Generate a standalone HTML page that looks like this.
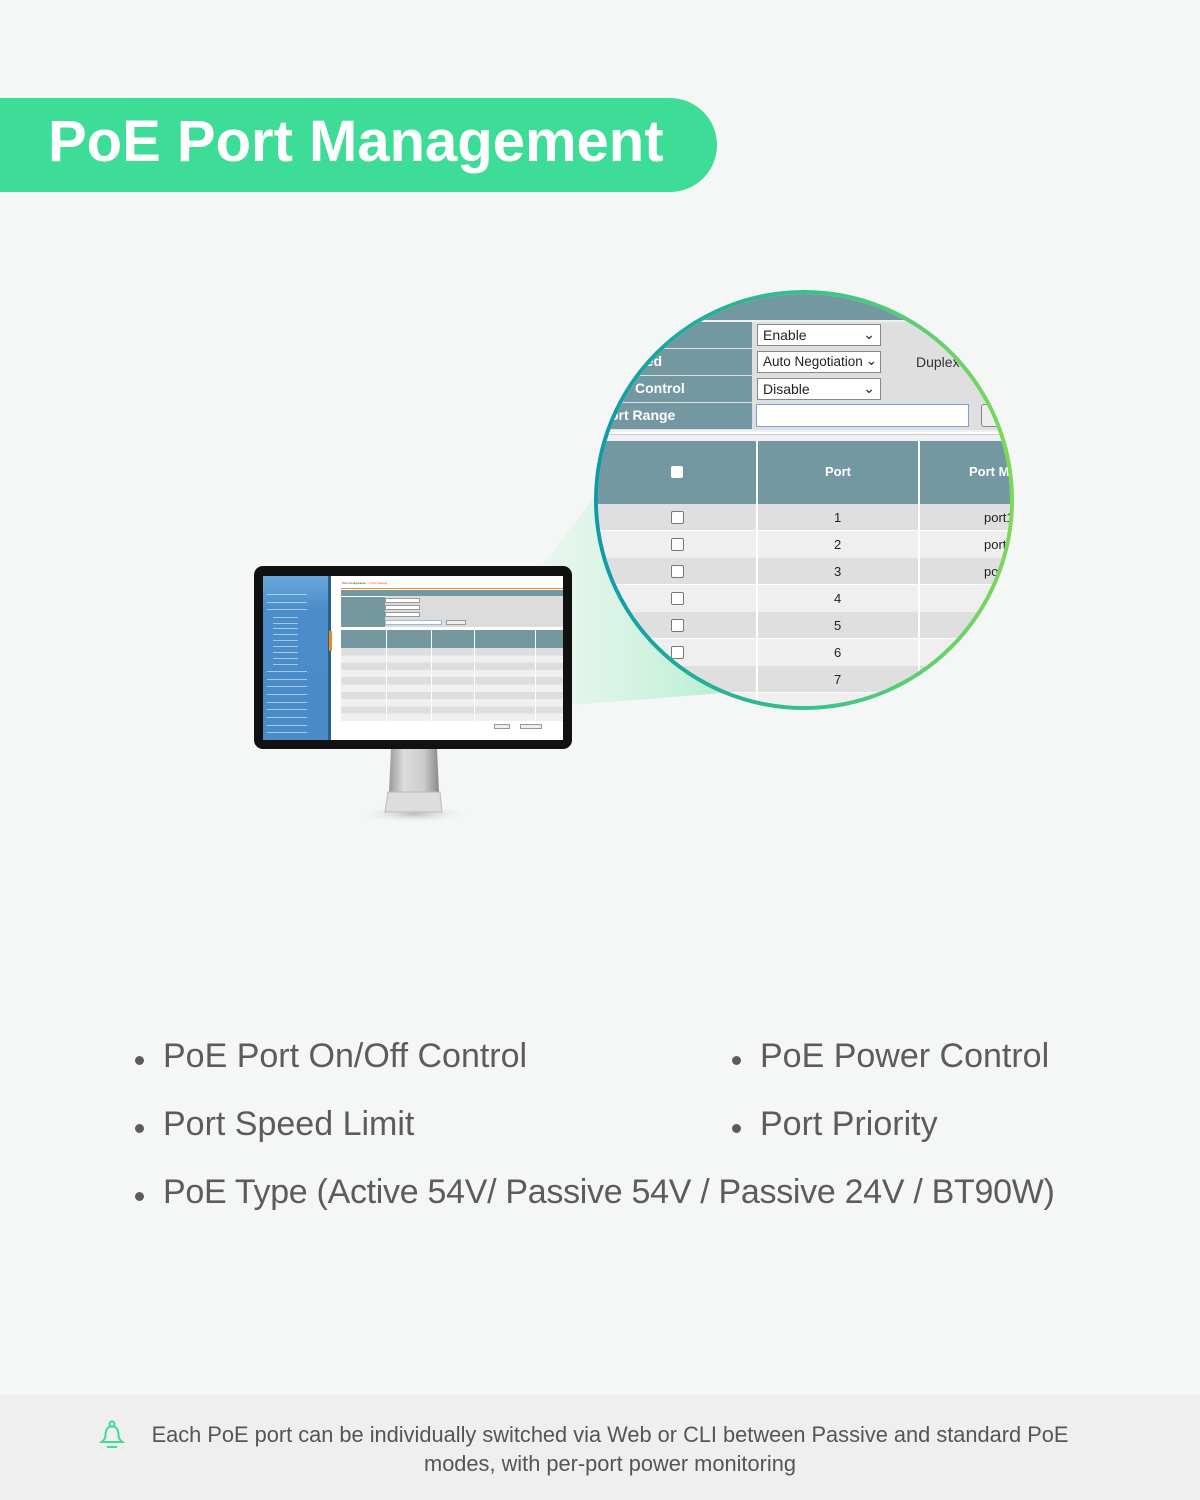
<!DOCTYPE html>
<html><head><meta charset="utf-8"><style>
*{margin:0;padding:0;box-sizing:border-box}
body{width:1200px;height:1500px;background:#f5f7f6;position:relative;overflow:hidden;font-family:"Liberation Sans",sans-serif}
.abs{position:absolute}
.b{position:absolute;font-size:34px;color:#5c5c5c;white-space:nowrap}
.b:before{content:"";position:absolute;left:-28px;top:19px;width:9px;height:9px;border-radius:50%;background:#5c5c5c}
.m{position:absolute;font-size:3px;color:#666;white-space:nowrap}
.sl{position:absolute;left:4px;width:40px;height:1px;background:#cfe2f3;opacity:.7}
</style></head><body>
<div class="abs" style="left:0;top:98px;width:717px;height:94px;background:#3ddc97;border-radius:0 47px 47px 0"></div>
<div class="abs" style="left:48px;top:108px;font-size:58px;font-weight:bold;color:#fff;white-space:nowrap">PoE Port Management</div>

<svg class="abs" style="left:0;top:0" width="1200" height="1500">
<defs><linearGradient id="bm" x1="0" y1="0" x2="1" y2="0"><stop offset="0" stop-color="#d8f5e6" stop-opacity="0.4"/><stop offset="1" stop-color="#a8ecc8"/></linearGradient>
<radialGradient id="sh" cx="0.5" cy="0.5" r="0.5"><stop offset="0" stop-color="#bbb"/><stop offset="1" stop-color="#f5f7f6" stop-opacity="0"/></radialGradient>
<linearGradient id="nk" x1="0" y1="0" x2="1" y2="0"><stop offset="0" stop-color="#999"/><stop offset="0.3" stop-color="#ddd"/><stop offset="0.7" stop-color="#ccc"/><stop offset="1" stop-color="#888"/></linearGradient></defs>
<polygon points="540,568 600,490 760,690 572,705" fill="url(#bm)"/>
<ellipse cx="414" cy="814" rx="58" ry="9" fill="url(#sh)"/>
<polygon points="391,749 437,749 439,792 389,792" fill="url(#nk)"/>
<polygon points="388,792 440,792 442,812 385,812" fill="#ddd" stroke="#bbb" stroke-width="1"/>
</svg>

<div class="abs" style="left:254px;top:566px;width:318px;height:183px;background:#111;border-radius:9px"></div>
<div class="abs" style="left:263px;top:576px;width:300px;height:164px;background:#fff;overflow:hidden">
 <div class="abs" style="left:0;top:0;width:67px;height:164px;background:linear-gradient(#6aa6dc,#4b8dcb 20%,#4a8ac6)">
  <div class="sl" style="top:18px"></div><div class="sl" style="top:26px"></div><div class="sl" style="top:33px"></div>
  <div class="sl" style="top:41px;left:10px;width:25px"></div><div class="sl" style="top:47px;left:10px;width:25px"></div><div class="sl" style="top:52px;left:10px;width:25px"></div><div class="sl" style="top:58px;left:10px;width:25px"></div><div class="sl" style="top:64px;left:10px;width:25px"></div><div class="sl" style="top:70px;left:10px;width:25px"></div><div class="sl" style="top:76px;left:10px;width:25px"></div><div class="sl" style="top:82px;left:10px;width:25px"></div><div class="sl" style="top:88px;left:10px;width:25px"></div>
  <div class="sl" style="top:95px"></div><div class="sl" style="top:103px"></div><div class="sl" style="top:110px"></div><div class="sl" style="top:118px"></div><div class="sl" style="top:126px"></div><div class="sl" style="top:133px"></div><div class="sl" style="top:141px"></div><div class="sl" style="top:149px"></div><div class="sl" style="top:156px"></div>
 </div>
 <div class="abs" style="left:65px;top:0;width:3px;height:164px;background:#2d5f8e"></div>
 <div class="abs" style="left:66px;top:55px;width:3px;height:20px;background:#f08a24"></div>
 <div class="m" style="left:79px;top:5px;color:#333">Port Configuration <span style="color:#e33">&gt;&gt; Port Setting</span></div>
 <div class="abs" style="left:78px;top:12px;width:222px;height:1px;background:#f08a24"></div>
 <div class="abs" style="left:78px;top:14px;width:222px;height:37px;background:#dcdcdc"></div>
 <div class="abs" style="left:78px;top:14px;width:222px;height:6px;background:#7598a0"></div>
 <div class="abs" style="left:78px;top:20px;width:44px;height:31px;background:#7598a0;border-top:1px solid #fff"></div>
 <div class="abs" style="left:122px;top:22px;width:35px;height:5px;background:#fff;border:1px solid #999"></div>
 <div class="abs" style="left:122px;top:29px;width:35px;height:5px;background:#fff;border:1px solid #999"></div>
 <div class="abs" style="left:122px;top:36px;width:35px;height:5px;background:#fff;border:1px solid #999"></div>
 <div class="abs" style="left:122px;top:44px;width:57px;height:5px;background:#fff;border:1px solid #9bd"></div>
 <div class="abs" style="left:183px;top:44px;width:20px;height:5px;background:#eee;border:1px solid #999"></div>
 <div class="abs" style="left:78px;top:54px;width:222px;height:18px;background:#7598a0"></div>
 <div class="abs" style="left:78px;top:72px;width:222px;height:73px;background:repeating-linear-gradient(#dedede 0 7.3px,#f0f0f0 7.3px 14.6px)"></div>
 <div class="abs" style="left:123px;top:54px;width:1px;height:91px;background:#fff"></div>
 <div class="abs" style="left:168px;top:54px;width:1px;height:91px;background:#fff"></div>
 <div class="abs" style="left:211px;top:54px;width:1px;height:91px;background:#fff"></div>
 <div class="abs" style="left:272px;top:54px;width:1px;height:91px;background:#fff"></div>
 <div class="abs" style="left:231px;top:148px;width:16px;height:5px;border:1px solid #999;background:#eee"></div>
 <div class="abs" style="left:257px;top:148px;width:22px;height:5px;border:1px solid #999;background:#eee"></div>
</div>

<div class="abs" style="left:594px;top:290px;width:420px;height:420px;border-radius:50%;background:linear-gradient(90deg,#0f9aa8,#3cc48a 55%,#7dd957)">
<div class="abs" style="left:4px;top:4px;width:412px;height:412px;border-radius:50%;overflow:hidden;background:#f0f0f0">
<div class="abs" style="left:-598px;top:-294px;width:1200px;height:800px;font-family:'Liberation Sans',sans-serif">
 <div class="abs" style="left:590px;top:290px;width:440px;height:30px;background:#7398a1"></div>
 <div class="abs" style="left:590px;top:322px;width:440px;height:108px;background:#dfdfdf"></div>
 <div class="abs" style="left:590px;top:322px;width:162px;height:26px;background:#7398a1"></div>
 <div class="abs" style="left:590px;top:349px;width:162px;height:26px;background:#7398a1"></div>
 <div class="abs" style="left:590px;top:376px;width:162px;height:26px;background:#7398a1"></div>
 <div class="abs" style="left:590px;top:403px;width:162px;height:26px;background:#7398a1"></div>
 <div class="abs" style="left:620px;top:353px;color:#fff;font-weight:bold;font-size:14px">Speed</div>
 <div class="abs" style="left:635px;top:380px;color:#fff;font-weight:bold;font-size:14px">Control</div>
 <div class="abs" style="left:610px;top:407px;color:#fff;font-weight:bold;font-size:14px">ort Range</div>
 <div class="abs" style="left:757px;top:324px;width:124px;height:22px;background:#fff;border:1px solid #888;font-size:14px;padding:2px 5px;color:#222">Enable<span style="position:absolute;right:5px;top:1px">⌄</span></div>
 <div class="abs" style="left:757px;top:351px;width:124px;height:22px;background:#fff;border:1px solid #888;font-size:13.5px;padding:2px 5px;color:#222;white-space:nowrap">Auto Negotiation<span style="position:absolute;right:3px;top:1px">⌄</span></div>
 <div class="abs" style="left:757px;top:378px;width:124px;height:22px;background:#fff;border:1px solid #888;font-size:14px;padding:2px 5px;color:#222">Disable<span style="position:absolute;right:5px;top:1px">⌄</span></div>
 <div class="abs" style="left:916px;top:354px;font-size:14px;color:#333">Duplex</div>
 <div class="abs" style="left:756px;top:404px;width:213px;height:23px;background:#fff;border:1px solid #7aa0dd"></div>
 <div class="abs" style="left:981px;top:404px;width:40px;height:23px;background:#eee;border:1px solid #888;border-radius:3px"></div>
 <div class="abs" style="left:590px;top:432px;width:440px;height:3px;background:#fff;border-bottom:1px solid #ccc"></div>
 <div class="abs" style="left:590px;top:441px;width:440px;height:63px;background:#7398a1"></div>
 <div class="abs" style="left:671px;top:466px;width:12px;height:12px;background:#fff;border-radius:2px"></div>
 <div class="abs" style="left:825px;top:464px;color:#fff;font-weight:bold;font-size:13px">Port</div>
 <div class="abs" style="left:969px;top:464px;color:#fff;font-weight:bold;font-size:13px">Port M</div>
 <div class="abs" style="left:590px;top:504px;width:440px;height:216px;background:repeating-linear-gradient(#dfdfdf 0 27px,#efefef 27px 54px)"></div>
 <div class="abs" style="left:756px;top:441px;width:2px;height:280px;background:#fff"></div>
 <div class="abs" style="left:918px;top:441px;width:2px;height:280px;background:#fff"></div>
 <div class="abs" style="left:590px;top:530px;width:440px;height:1px;background:#fff"></div>
 <div class="abs" style="left:590px;top:584px;width:440px;height:1px;background:#fff"></div>
 <div class="abs" style="left:590px;top:638px;width:440px;height:1px;background:#fff"></div>
 <div class="abs" style="left:590px;top:692px;width:440px;height:1px;background:#fff"></div>
 <div class="abs" style="left:671px;top:511px;width:13px;height:13px;border:1px solid #777;border-radius:2px;background:#fff"></div>
 <div class="abs" style="left:671px;top:538px;width:13px;height:13px;border:1px solid #777;border-radius:2px;background:#fff"></div>
 <div class="abs" style="left:671px;top:565px;width:13px;height:13px;border:1px solid #777;border-radius:2px;background:#fff"></div>
 <div class="abs" style="left:671px;top:592px;width:13px;height:13px;border:1px solid #777;border-radius:2px;background:#fff"></div>
 <div class="abs" style="left:671px;top:619px;width:13px;height:13px;border:1px solid #777;border-radius:2px;background:#fff"></div>
 <div class="abs" style="left:671px;top:646px;width:13px;height:13px;border:1px solid #777;border-radius:2px;background:#fff"></div>
 <div class="abs" style="left:834px;top:510px;font-size:13px;color:#222">1</div>
 <div class="abs" style="left:834px;top:537px;font-size:13px;color:#222">2</div>
 <div class="abs" style="left:834px;top:564px;font-size:13px;color:#222">3</div>
 <div class="abs" style="left:834px;top:591px;font-size:13px;color:#222">4</div>
 <div class="abs" style="left:834px;top:618px;font-size:13px;color:#222">5</div>
 <div class="abs" style="left:834px;top:645px;font-size:13px;color:#222">6</div>
 <div class="abs" style="left:834px;top:672px;font-size:13px;color:#222">7</div>
 <div class="abs" style="left:984px;top:510px;font-size:13px;color:#222">port1</div>
 <div class="abs" style="left:984px;top:537px;font-size:13px;color:#222">port2</div>
 <div class="abs" style="left:984px;top:564px;font-size:13px;color:#222">port3</div>
</div></div></div>

<div class="b" style="left:163px;top:1037px">PoE Port On/Off Control</div>
<div class="b" style="left:760px;top:1037px">PoE Power Control</div>
<div class="b" style="left:163px;top:1105px">Port Speed Limit</div>
<div class="b" style="left:760px;top:1105px">Port Priority</div>
<div class="b" style="left:163px;top:1173px;letter-spacing:-0.3px">PoE Type (Active 54V/ Passive 54V / Passive 24V / BT90W)</div>

<div class="abs" style="left:0;top:1395px;width:1200px;height:105px;background:#efefef"></div>
<svg class="abs" style="left:99px;top:1420px" width="28" height="30" viewBox="0 0 28 30"><g fill="none" stroke="#3ddc97" stroke-width="2"><circle cx="13" cy="4" r="2.5"/><path d="M13 6.5c-5 0-6.5 4-6.5 9 0 3-2 5-4 6.5h21c-2-1.5-4-3.5-4-6.5 0-5-1.5-9-6.5-9z"/><path d="M8 27h10"/></g></svg>
<div class="abs" style="left:100px;top:1420px;width:1020px;text-align:center;font-size:21.8px;line-height:29px;color:#555">Each PoE port can be individually switched via Web or CLI between Passive and standard PoE<br>modes, with per-port power monitoring</div>
</body></html>
